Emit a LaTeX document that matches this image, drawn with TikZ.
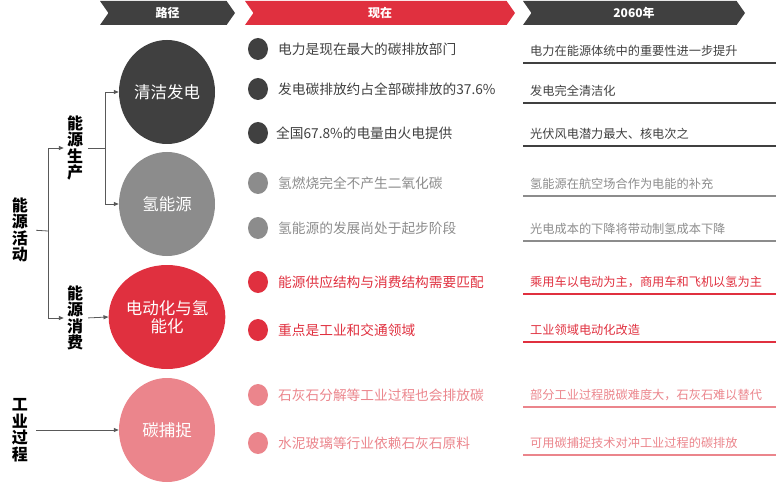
\documentclass[tikz,border=0pt]{standalone}
\usepackage{fontspec}
\setmainfont{Noto Sans CJK SC}
\usepackage{xcolor}
\usetikzlibrary{arrows.meta, positioning, shapes.geometric, shapes.symbols}

\definecolor{darkc}{HTML}{404040}
\definecolor{grayc}{HTML}{8C8C8C}
\definecolor{redc}{HTML}{E0303F}
\definecolor{pinkc}{HTML}{EB858C}
\definecolor{arrowc}{HTML}{595959}

\begin{document}
\begin{tikzpicture}[
    x=1pt, y=-1pt,
    head/.style={
        signal,
        signal from=west,
        signal to=east,
        signal pointer angle=110,
        minimum height=24pt,
        inner sep=0pt,
        text=white,
        font=\fontsize{12}{14}\selectfont\bfseries
    },
    ball/.style={
        ellipse,
        minimum width=96pt,
        minimum height=104pt,
        inner sep=0pt,
        text=white,
        align=center,
        font=\fontsize{16.5}{18}\selectfont
    },
    bullet/.style={
        ellipse,
        minimum width=20pt,
        minimum height=22pt,
        inner sep=0pt
    },
    now/.style={
        anchor=west,
        inner sep=0pt,
        font=\fontsize{13.7}{15}\selectfont
    },
    goal/.style={
        anchor=west,
        text width=239pt,
        inner xsep=7pt,
        inner ysep=0pt,
        minimum height=24pt,
        font=\fontsize{12.2}{14}\selectfont
    },
    cat/.style={
        align=center,
        inner sep=3pt,
        font=\fontsize{16}{16.5}\selectfont\bfseries
    },
    arr/.style={
        -{Triangle[length=5pt, width=4pt]},
        draw=arrowc,
        line width=0.8pt
    },
    uline/.style={
        line width=1.6pt
    }
]

\useasboundingbox (0,0) rectangle (777,484);

% headers
\node[head, fill=darkc, minimum width=135pt] (hpath) at (167.5,13) {路径};
\node[head, fill=redc, minimum width=270pt] (hnow) at (380,13) {现在};
\node[head, fill=darkc, minimum width=222pt] (hgoal) at (634,13) {2060年};

% left labels
\node[cat] (act) at (20,230) {能\\源\\活\\动};
\node[cat] (prod) at (75,148) {能\\源\\生\\产};
\node[cat] (cons) at (75,318) {能\\源\\消\\费};
\node[cat] (ind) at (20,430) {工\\业\\过\\程};

% paths
\node[ball, fill=darkc] (clean) at (167,92) {清洁发电};
\node[ball, fill=grayc] (hydro) at (167,204) {氢能源};
\node[ball, fill=redc] (elec) at (167,317) {电动化与氢\\能化};
\node[ball, fill=pinkc] (ccs) at (167,430) {碳捕捉};

% connectors
\coordinate (split) at (48,231);
\coordinate (fork) at (105,148);
\draw[draw=arrowc, line width=0.8pt, shorten <=5pt] (act.east) -- (split);
\draw[arr] (split) |- (prod.west);
\draw[arr] (split) |- (cons.west);
\draw[draw=arrowc, line width=0.8pt, shorten <=2pt] (prod.east) -- (fork);
\draw[arr] (fork) |- (clean.west);
\draw[arr] (fork) |- (hydro.west);
\draw[arr, shorten <=2pt] (cons.east) -- (elec.west);
\draw[arr, shorten <=5pt] (ind.east) -- (ccs.west);

% now
\node[bullet, fill=darkc] (d1) at (258,49) {};
\node[bullet, fill=darkc] (d2) at (258,89) {};
\node[bullet, fill=darkc] (d3) at (258,133) {};
\node[bullet, fill=grayc] (d4) at (258,183) {};
\node[bullet, fill=grayc] (d5) at (258,228) {};
\node[bullet, fill=redc] (d6) at (258,282) {};
\node[bullet, fill=redc] (d7) at (258,330) {};
\node[bullet, fill=pinkc] (d8) at (258,395) {};
\node[bullet, fill=pinkc] (d9) at (258,443) {};

\node[now, text=darkc] (n1) at (278,49) {电力是现在最大的碳排放部门};
\node[now, text=darkc] (n2) at (278,89) {发电碳排放约占全部碳排放的37.6\%};
\node[now, text=darkc] (n3) at (276,133) {全国67.8\%的电量由火电提供};
\node[now, text=grayc] (n4) at (278,183) {氢燃烧完全不产生二氧化碳};
\node[now, text=grayc] (n5) at (278,228) {氢能源的发展尚处于起步阶段};
\node[now, text=redc] (n6) at (278,282) {能源供应结构与消费结构需要匹配};
\node[now, text=redc] (n7) at (278,330) {重点是工业和交通领域};
\node[now, text=pinkc] (n8) at (278,395) {石灰石分解等工业过程也会排放碳};
\node[now, text=pinkc] (n9) at (278,443) {水泥玻璃等行业依赖石灰石原料};

% 2060
\node[goal, text=darkc] (g1) at (523,51) {电力在能源体统中的重要性进一步提升};
\node[goal, text=darkc] (g2) at (523,91) {发电完全清洁化};
\node[goal, text=darkc] (g3) at (523,134) {光伏风电潜力最大、核电次之};
\node[goal, text=grayc] (g4) at (523,184) {氢能源在航空场合作为电能的补充};
\node[goal, text=grayc] (g5) at (523,229) {光电成本的下降将带动制氢成本下降};
\node[goal, text=redc] (g6) at (523,282) {乘用车以电动为主，商用车和飞机以氢为主};
\node[goal, text=redc] (g7) at (523,330) {工业领域电动化改造};
\node[goal, text=pinkc] (g8) at (523,395) {部分工业过程脱碳难度大，石灰石难以替代};
\node[goal, text=pinkc] (g9) at (523,443) {可用碳捕捉技术对冲工业过程的碳排放};

\draw[uline, darkc] (g1.south west) -- (g1.south east);
\draw[uline, darkc] (g2.south west) -- (g2.south east);
\draw[uline, darkc] (g3.south west) -- (g3.south east);
\draw[uline, grayc] (g4.south west) -- (g4.south east);
\draw[uline, grayc] (g5.south west) -- (g5.south east);
\draw[uline, redc] (g6.south west) -- (g6.south east);
\draw[uline, redc] (g7.south west) -- (g7.south east);
\draw[uline, pinkc] (g8.south west) -- (g8.south east);
\draw[uline, pinkc] (g9.south west) -- (g9.south east);

\end{tikzpicture}
\end{document}
